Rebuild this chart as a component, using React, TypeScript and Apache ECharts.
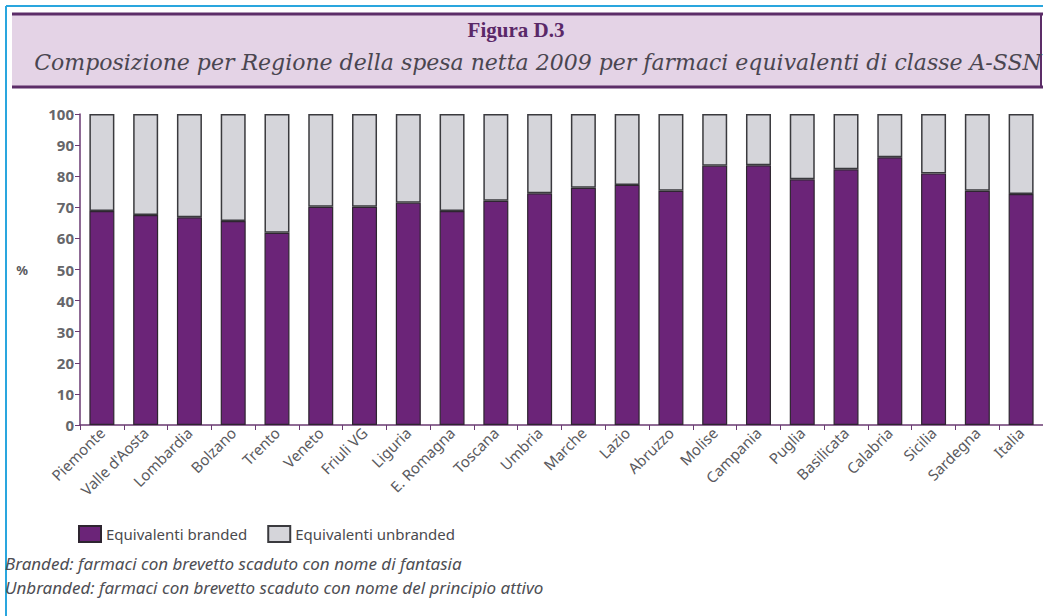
import React, { useEffect, useRef } from "react";
import * as echarts from "echarts";

const regions = [
  "Piemonte", "Valle d'Aosta", "Lombardia", "Bolzano", "Trento", "Veneto",
  "Friuli VG", "Liguria", "E. Romagna", "Toscana", "Umbria", "Marche",
  "Lazio", "Abruzzo", "Molise", "Campania", "Puglia", "Basilicata",
  "Calabria", "Sicilia", "Sardegna", "Italia",
];

const branded = [
  68.8, 67.5, 66.8, 65.6, 61.8, 70.2, 70.2, 71.5, 68.8, 72.1, 74.5,
  76.3, 77.2, 75.3, 83.4, 83.5, 79.0, 82.2, 86.1, 80.9, 75.3, 74.3,
];

const unbranded = [
  31.2, 32.5, 33.2, 34.4, 38.2, 29.8, 29.8, 28.5, 31.2, 27.9, 25.5,
  23.7, 22.8, 24.7, 16.6, 16.5, 21.0, 17.8, 13.9, 19.1, 24.7, 25.7,
];

const yTicks = ["0", "10", "20", "30", "40", "50", "60", "70", "80", "90", "100"];

const seriesNames = ["Equivalenti branded", "Equivalenti unbranded"];

const figureLabel = "Figura D.3";
const figureTitle =
  "Composizione per Regione della spesa netta 2009 per farmaci equivalenti di classe A-SSN";
const noteBranded = "Branded: farmaci con brevetto scaduto con nome di fantasia";
const noteUnbranded = "Unbranded: farmaci con brevetto scaduto con nome del principio attivo";

export default function App() {
  const ref = useRef<HTMLDivElement>(null);

  useEffect(() => {
    if (!ref.current) return;
    const chart = echarts.init(ref.current, null, { renderer: "svg" });
    const purple = "#6b2478";
    const grey = "#d5d5da";
    const axisColor = "#6a3a72";
    const textColor = "#5a5a5e";

    chart.setOption({
      animation: false,
      backgroundColor: "#ffffff",
      grid: { left: 80, top: 114, width: 972, height: 311, containLabel: false },
      legend: {
        left: 73,
        top: 520,
        icon: "rect",
        itemWidth: 22,
        itemHeight: 16,
        itemGap: 20,
        textStyle: { color: "#4a4a4e", fontSize: 15, fontFamily: "Noto Sans" },
        data: seriesNames,
      },
      xAxis: {
        type: "category",
        data: regions,
        boundaryGap: true,
        axisLine: { lineStyle: { color: axisColor, width: 1.5 } },
        axisTick: { show: true, length: 5, alignWithLabel: false, lineStyle: { color: axisColor } },
        axisLabel: {
          rotate: 45,
          interval: 0,
          margin: 5,
          color: textColor,
          fontSize: 15,
          fontFamily: "Noto Sans",
        },
      },
      yAxis: {
        type: "value",
        min: 0,
        max: 100,
        interval: 10,
        splitLine: { show: false },
        axisLine: { show: true, lineStyle: { color: axisColor, width: 1.5 } },
        axisTick: { show: true, length: 5, lineStyle: { color: axisColor } },
        axisLabel: {
          color: "#66666a",
          fontSize: 15,
          fontWeight: "bold",
          fontFamily: "Noto Sans",
          margin: 6,
          formatter: (v: number) => yTicks[Math.round(v / 10)] ?? String(v),
        },
      },
      series: [
        {
          name: seriesNames[0],
          type: "bar",
          stack: "total",
          barWidth: 25,
          data: branded,
          itemStyle: { color: purple, borderColor: "#2e2530", borderWidth: 1.2 },
        },
        {
          name: seriesNames[1],
          type: "bar",
          stack: "total",
          barWidth: 25,
          data: unbranded,
          itemStyle: { color: grey, borderColor: "#3a3a3e", borderWidth: 1.5 },
        },
      ],
      graphic: [
        { type: "line", shape: { x1: 6, y1: 6, x2: 1043, y2: 6 }, style: { stroke: "#2aa6de", lineWidth: 2 } },
        { type: "line", shape: { x1: 6, y1: 6, x2: 6, y2: 616 }, style: { stroke: "#2aa6de", lineWidth: 2 } },
        { type: "rect", shape: { x: 12, y: 14, width: 1029, height: 73 }, style: { fill: "#e4d3e6" } },
        { type: "line", shape: { x1: 12, y1: 14, x2: 1043, y2: 14 }, style: { stroke: "#5c2d68", lineWidth: 3 } },
        { type: "line", shape: { x1: 12, y1: 87, x2: 1043, y2: 87 }, style: { stroke: "#5c2d68", lineWidth: 3 } },
        { type: "line", shape: { x1: 1041, y1: 14, x2: 1041, y2: 87 }, style: { stroke: "#5c2d68", lineWidth: 2 } },
        {
          type: "text",
          x: 516,
          y: 30,
          style: {
            text: figureLabel,
            fill: "#5a2868",
            font: "bold 21px 'Liberation Serif'",
            textAlign: "center",
            textVerticalAlign: "middle",
          },
        },
        {
          type: "text",
          x: 538,
          y: 62,
          style: {
            text: figureTitle,
            fill: "#4a4650",
            font: "italic 22px 'DejaVu Serif'",
            textAlign: "center",
            textVerticalAlign: "middle",
          },
        },
        {
          type: "text",
          x: 22,
          y: 270,
          style: {
            text: "%",
            fill: textColor,
            font: "bold 13px 'Noto Sans'",
            textAlign: "center",
            textVerticalAlign: "middle",
          },
        },
        {
          type: "text",
          x: 5,
          y: 563,
          style: {
            text: noteBranded,
            fill: "#4e4e54",
            font: "italic 17px 'Noto Sans'",
            textAlign: "left",
            textVerticalAlign: "middle",
          },
        },
        {
          type: "text",
          x: 5,
          y: 587,
          style: {
            text: noteUnbranded,
            fill: "#4e4e54",
            font: "italic 17px 'Noto Sans'",
            textAlign: "left",
            textVerticalAlign: "middle",
          },
        },
      ],
    });

    return () => {
      chart.dispose();
    };
  }, []);

  return (
    <div
      style={{
        position: "fixed",
        left: 0,
        top: 0,
        width: 1043,
        height: 616,
        overflow: "hidden",
        background: "#ffffff",
      }}
    >
      <div ref={ref} style={{ width: 1043, height: 616 }} />
    </div>
  );
}
